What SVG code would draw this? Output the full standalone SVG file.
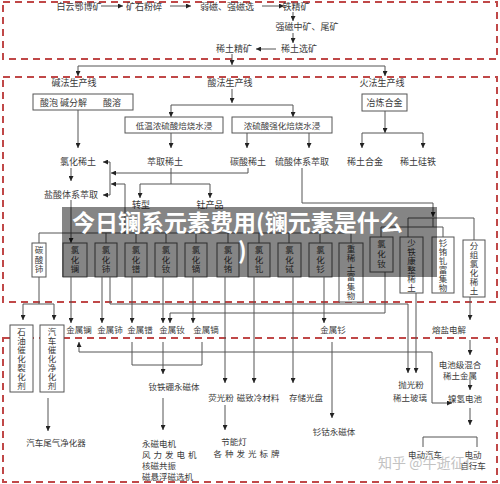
<svg xmlns="http://www.w3.org/2000/svg" width="500" height="484" viewBox="0 0 500 484">
<defs>
<marker id="ah" viewBox="0 0 6 6" refX="6" refY="3" markerWidth="5" markerHeight="5" orient="auto" markerUnits="userSpaceOnUse"><path d="M0,0L6,3L0,6z" fill="#222"/></marker>
<style>
.t{font-family:"Noto Sans CJK SC","Noto Sans",sans-serif;font-size:9px;fill:#3a3a3a;text-anchor:middle}
.s{text-anchor:start}
.m{font-size:8.5px}
.v{font-family:"Noto Sans CJK SC","Noto Sans",sans-serif;font-size:8.5px;fill:#3a3a3a;text-anchor:middle;writing-mode:vertical-rl;letter-spacing:1px}
.b{fill:#fff;stroke:#555;stroke-width:1}
.l{fill:none;stroke:#555;stroke-width:1}
.a{fill:none;stroke:#555;stroke-width:1;marker-end:url(#ah)}
.zone{fill:none;stroke:#c04848;stroke-width:2;stroke-dasharray:7 5}
.ov{font-family:"Noto Sans CJK SC","Noto Sans",sans-serif;font-weight:bold;font-size:23px;fill:#fff}
</style>
</defs>
<rect width="500" height="484" fill="#fff"/>
<g id="zones">
<rect class="zone" x="3" y="2" width="494" height="57"/>
<rect class="zone" x="3" y="77" width="494" height="225"/>
<rect class="zone" x="3" y="338" width="494" height="144"/>
</g>
<g id="connectors">
<line class="a" x1="101" y1="6" x2="123" y2="6"/>
<line class="a" x1="170" y1="6" x2="191" y2="6"/>
<line class="a" x1="262" y1="6" x2="284" y2="6"/>
<line class="a" x1="293" y1="12" x2="293" y2="21"/>
<line class="a" x1="293" y1="33" x2="293" y2="43"/>
<line class="a" x1="276" y1="49" x2="256" y2="49"/>
<line class="a" x1="232" y1="54" x2="232" y2="65"/>
<line class="l" x1="78" y1="66" x2="385" y2="66"/>
<line class="a" x1="78" y1="66" x2="78" y2="76"/>
<line class="a" x1="385" y1="66" x2="385" y2="76"/>
<line class="a" x1="232" y1="89" x2="232" y2="103"/>
<line class="l" x1="171" y1="105" x2="293" y2="105"/>
<line class="a" x1="171" y1="105" x2="171" y2="117"/>
<line class="a" x1="293" y1="105" x2="293" y2="117"/>
<line class="a" x1="78" y1="110" x2="78" y2="148"/>
<line class="a" x1="71" y1="168" x2="71" y2="181"/>
<polyline class="l" points="110,162 110,195"/>
<line class="a" x1="110" y1="162" x2="103" y2="162"/>
<line class="a" x1="110" y1="195" x2="103" y2="195"/>
<polyline class="a" points="248,168 248,173 111,173"/>
<polyline class="a" points="125,234 125,184 111,184"/>
<line class="a" x1="171" y1="133" x2="171" y2="148"/>
<polyline class="l" points="171,168 171,184"/>
<line class="l" x1="140" y1="184" x2="210" y2="184"/>
<line class="a" x1="140" y1="184" x2="140" y2="198"/>
<line class="a" x1="210" y1="184" x2="210" y2="198"/>
<line class="a" x1="247" y1="133" x2="247" y2="148"/>
<line class="a" x1="309" y1="133" x2="309" y2="148"/>
<polyline class="l" points="302,168 302,203 433,203"/>
<line class="a" x1="433" y1="203" x2="433" y2="217"/>
<line class="l" x1="408" y1="218" x2="474" y2="218"/>
<line class="l" x1="408" y1="218" x2="408" y2="237"/>
<line class="l" x1="474" y1="218" x2="474" y2="240"/>
<line class="l" x1="433" y1="218" x2="433" y2="227"/>
<line class="l" x1="381" y1="227" x2="443" y2="227"/>
<line class="l" x1="381" y1="227" x2="381" y2="237"/>
<line class="l" x1="443" y1="227" x2="443" y2="237"/>
<line class="a" x1="385" y1="111" x2="385" y2="133"/>
<line class="l" x1="362" y1="133" x2="423" y2="133"/>
<line class="a" x1="362" y1="133" x2="362" y2="148"/>
<line class="a" x1="423" y1="133" x2="423" y2="148"/>
<polyline class="l" points="71,200 71,233"/>
<line class="l" x1="39" y1="233" x2="351" y2="233"/>
<line class="l" x1="39" y1="233" x2="39" y2="243"/>
<line class="a" x1="71" y1="233" x2="71" y2="243"/>
<line class="l" x1="106" y1="233" x2="106" y2="243"/>
<line class="l" x1="136" y1="233" x2="136" y2="243"/>
<line class="l" x1="166" y1="233" x2="166" y2="243"/>
<line class="l" x1="196" y1="233" x2="196" y2="243"/>
<line class="l" x1="228" y1="233" x2="228" y2="243"/>
<line class="l" x1="259" y1="233" x2="259" y2="243"/>
<line class="l" x1="289" y1="233" x2="289" y2="243"/>
<line class="l" x1="320" y1="233" x2="320" y2="243"/>
<line class="l" x1="351" y1="233" x2="351" y2="243"/>
<polyline class="l" points="39,277 39,304"/>
<line class="l" x1="23" y1="304" x2="54" y2="304"/>
<line class="a" x1="23" y1="304" x2="23" y2="320"/>
<line class="a" x1="54" y1="304" x2="54" y2="320"/>
<line class="a" x1="71" y1="277" x2="71" y2="323"/>
<line class="a" x1="102" y1="277" x2="102" y2="323"/>
<line class="a" x1="132" y1="277" x2="132" y2="323"/>
<line class="a" x1="163" y1="277" x2="163" y2="323"/>
<line class="a" x1="193" y1="277" x2="193" y2="323"/>
<polyline class="l" points="110,277 110,304 408,304"/>
<line class="a" x1="408" y1="304" x2="408" y2="373"/>
<line class="a" x1="416" y1="293" x2="416" y2="373"/>
<polyline class="l" points="385,272 385,313 170,313"/>
<line class="a" x1="170" y1="313" x2="170" y2="323"/>
<line class="a" x1="225" y1="277" x2="225" y2="383"/>
<line class="a" x1="254" y1="277" x2="254" y2="383"/>
<line class="a" x1="293" y1="277" x2="293" y2="383"/>
<line class="a" x1="324" y1="277" x2="324" y2="323"/>
<line class="a" x1="470" y1="297" x2="470" y2="320"/>
<line class="a" x1="470" y1="340" x2="470" y2="355"/>
<line class="a" x1="79" y1="352" x2="79" y2="342"/>
<polyline class="a" points="79,352 432,352 432,403 452,403"/>
<polyline class="l" points="132,342 132,365 202,365 202,342"/>
<line class="a" x1="163" y1="342" x2="163" y2="374"/>
<line class="a" x1="163" y1="398" x2="163" y2="430"/>
<line class="a" x1="225" y1="405" x2="225" y2="430"/>
<line class="a" x1="332" y1="342" x2="332" y2="418"/>
<line class="a" x1="470" y1="380" x2="470" y2="390"/>
<line class="a" x1="470" y1="408" x2="470" y2="425"/>
<polyline class="l" points="423,447 423,437 477,437 477,447"/>
<line class="a" x1="48" y1="398" x2="48" y2="431"/>
</g>
<g id="n-top" class="t">
<text x="79" y="10">白云鄂博矿</text>
<text x="144" y="10">矿石粉碎</text>
<text x="227" y="10">弱磁、强磁选</text>
<text x="296" y="10">铁精矿</text>
<text x="307" y="30">强磁中矿、尾矿</text>
<text x="299" y="52">稀土选矿</text>
<text x="234" y="52">稀土精矿</text>
</g>
<g id="n-sections" class="t">
<text x="74" y="86">碱法生产线</text>
<text x="230" y="86">酸法生产线</text>
<text x="382" y="86">火法生产线</text>
</g>
<g id="n-alkali">
<rect class="b" x="33" y="94" width="100" height="16"/>
<text class="t s" x="40" y="105.5">酸泡</text>
<text class="t s" x="60" y="105.5">碱分解</text>
<text class="t s" x="103" y="105.5">酸溶</text>
<text class="t" x="78" y="165">氯化稀土</text>
<text class="t" x="71" y="198">盐酸体系萃取</text>
</g>
<g id="n-acid">
<rect class="b" x="125" y="117" width="98" height="16"/>
<text class="t m" x="174" y="128.5">低温浓硫酸焙烧水浸</text>
<rect class="b" x="232" y="117" width="100" height="16"/>
<text class="t m" x="282" y="128.5">浓硫酸强化焙烧水浸</text>
<text class="t" x="165" y="165">萃取稀土</text>
<text class="t" x="248" y="165">碳酸稀土</text>
<text class="t" x="302" y="165">硫酸体系萃取</text>
<text class="t" x="141" y="208">转型</text>
<text class="t" x="210" y="208">钍产品</text>
</g>
<g id="n-fire">
<rect class="b" x="362" y="94" width="45" height="17"/>
<text class="t" x="384.5" y="106">冶炼合金</text>
<text class="t" x="365" y="165">稀土合金</text>
<text class="t" x="418" y="165">稀土硅铁</text>
</g>
<g id="n-chlorides">
<rect class="b" x="32" y="243" width="14" height="34"/>
<text class="v" x="39" y="260">碳酸铈</text>
<rect class="b" x="63" y="243" width="24" height="34"/>
<text class="v" x="75" y="260">氯化镧</text>
<rect class="b" x="95" y="243" width="22" height="34"/>
<text class="v" x="106" y="260">氯化铈</text>
<rect class="b" x="125" y="243" width="22" height="34"/>
<text class="v" x="136" y="260">氯化镨</text>
<rect class="b" x="155" y="243" width="22" height="34"/>
<text class="v" x="166" y="260">氯化钕</text>
<rect class="b" x="185" y="243" width="22" height="34"/>
<text class="v" x="196" y="260">氯化镝</text>
<rect class="b" x="217" y="243" width="22" height="34"/>
<text class="v" x="228" y="260">氯化铕</text>
<rect class="b" x="248" y="243" width="22" height="34"/>
<text class="v" x="259" y="260">氯化钆</text>
<rect class="b" x="278" y="243" width="23" height="34"/>
<text class="v" x="289.5" y="260">氯化铽</text>
<rect class="b" x="309" y="243" width="23" height="34"/>
<text class="v" x="320.5" y="260">氯化钐</text>
<rect class="b" x="339" y="243" width="24" height="59"/>
<text class="v" x="351" y="273">重稀土富集物</text>
<rect class="b" x="370" y="237" width="23" height="35"/>
<text class="v" x="381.5" y="255" style="letter-spacing:1.5px">氯化钕</text>
<rect class="b" x="400" y="237" width="23" height="56"/>
<text class="v" x="411.5" y="265.5" style="letter-spacing:0.4px">少铁康整稀土</text>
<rect class="b" x="432" y="237" width="22" height="56"/>
<text class="v" x="443" y="265.5" style="letter-spacing:0.4px">钐铕钆富集物</text>
<rect class="b" x="463" y="240" width="22" height="57"/>
<text class="v" x="474" y="269" style="letter-spacing:0.5px">分组氯化稀土</text>
</g>
<g id="n-metals" class="t m">
<text x="79" y="333">金属镧</text>
<text x="110" y="333">金属铈</text>
<text x="140" y="333">金属镨</text>
<text x="172" y="333">金属钕</text>
<text x="206" y="333">金属镝</text>
<text x="333" y="333">金属钐</text>
<text x="449" y="333">熔盐电解</text>
</g>
<g id="n-catalysts">
<rect class="b" x="10" y="325" width="23" height="67"/>
<text class="v" x="21.5" y="359" style="letter-spacing:0.5px">石油催化裂化剂</text>
<rect class="b" x="40" y="325" width="24" height="67"/>
<text class="v" x="52" y="359" style="letter-spacing:0.5px">汽车催化净化剂</text>
</g>
<g id="n-apps" class="t m">
<text x="56" y="446">汽车尾气净化器</text>
<text x="174" y="390">钕铁硼永磁体</text>
<text class="s" x="142" y="447">永磁电机</text>
<text class="s" x="142" y="458" style="letter-spacing:3px">风力发电机</text>
<text class="s" x="142" y="469">核磁共振</text>
<text class="s" x="142" y="480">磁悬浮磁选机</text>
<text x="221" y="401">荧光粉</text>
<text x="258" y="401">磁致冷材料</text>
<text x="306" y="401">存储光盘</text>
<text x="234" y="445">节能灯</text>
<text x="248" y="457" style="letter-spacing:3px">各种发光标牌</text>
<text x="334" y="435">钐钴永磁体</text>
<text x="411" y="388">抛光粉</text>
<text x="410" y="401">稀土玻璃</text>
<text x="460" y="368">电池级混合</text>
<text x="460" y="379">稀土金属</text>
<text x="465" y="402">镍氢电池</text>
<text x="425" y="458">电动汽车</text>
<text x="473" y="458">电动</text>
<text x="473" y="469">自行车</text>
</g>
<g id="overlay">
<rect x="62" y="207" width="375" height="70" fill="#000" opacity="0.48"/>
<text class="ov" x="72" y="231">今日镧系元素费用(镧元素是什么</text>
<text class="ov" x="238" y="259">)</text>
</g>
<g id="watermark">
<text x="378" y="468" style="font-family:'Noto Sans CJK SC',sans-serif;font-size:14px;fill:#b8b8b8;opacity:0.85">知乎 @牛逝征仁</text>
</g>
</svg>
